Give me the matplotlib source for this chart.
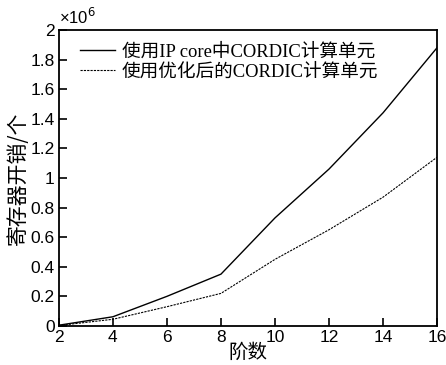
import numpy as np
import matplotlib.pyplot as plt
from matplotlib.ticker import FuncFormatter

order = [2, 4, 6, 8, 10, 12, 14, 16]
ipcore = [0.005e6, 0.062e6, 0.20e6, 0.35e6, 0.73e6, 1.06e6, 1.44e6, 1.88e6]
optimized = [0.003e6, 0.045e6, 0.13e6, 0.22e6, 0.45e6, 0.65e6, 0.87e6, 1.14e6]
labels = ['使用IP core中CORDIC计算单元', '使用优化后的CORDIC计算单元']

plt.rcParams['font.family'] = ['Liberation Sans', 'Noto Sans CJK SC']

fig = plt.figure(figsize=(4.46, 3.65), dpi=100)
ax = fig.add_axes([0.132, 0.107, 0.848, 0.811])

ax.plot(order, ipcore, color='black', lw=1.0, label=labels[0])
ax.plot(order, optimized, color='black', lw=0.8, linestyle=(0, (2, 1)), label=labels[1])

ax.set_xlim(2, 16)
ax.set_ylim(0, 2e6)
ax.set_xticks(range(2, 17, 2))
ax.set_yticks(np.arange(0, 2.01e6, 0.2e6))
ax.yaxis.set_major_formatter(FuncFormatter(lambda v, p: '%g' % round(v / 1e6, 1)))
ax.text(0.0, 1.01, r'×10$^6$', transform=ax.transAxes, fontsize=12, ha='left', va='bottom')
ax.tick_params(direction='in', labelsize=12.5, length=6, width=1.2, top=False, right=False, pad=3)
for s in ax.spines.values():
    s.set_linewidth(1.3)

ax.set_xlabel('阶数', fontsize=14, family=['Noto Sans CJK SC'], labelpad=-2)
ax.set_ylabel('寄存器开销/个', fontsize=15, family=['Noto Sans CJK SC'], labelpad=1)

leg = ax.legend(loc='upper left', bbox_to_anchor=(0.055, 0.955), frameon=False,
                handlelength=1.9, handletextpad=0.35, labelspacing=0.15,
                borderaxespad=0, borderpad=0,
                prop={'family': ['Liberation Serif', 'Noto Sans CJK SC'], 'size': 13.4})

fig.savefig('out.png', dpi=100)
